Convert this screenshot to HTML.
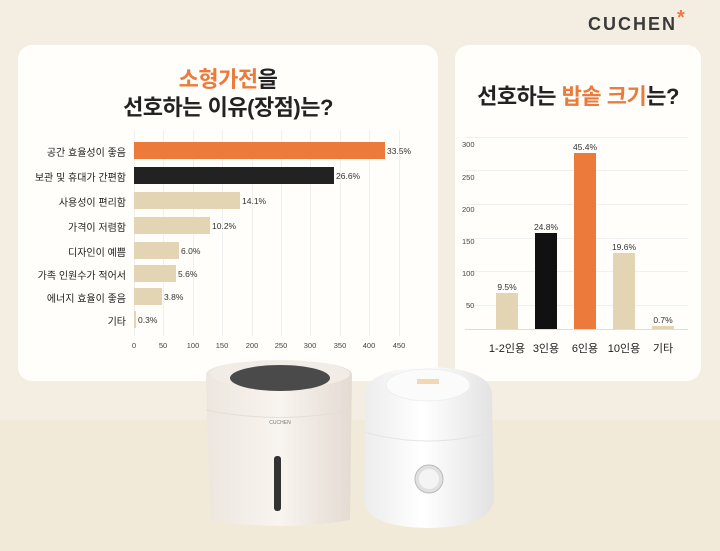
<!DOCTYPE html>
<html><head><meta charset="utf-8"><style>
*{margin:0;padding:0;box-sizing:border-box}
body{width:720px;height:551px;background:#f4eee2;position:relative;overflow:hidden;font-family:"Liberation Sans","Noto Sans CJK KR",sans-serif;color:#222}
.a{position:absolute}
.card{position:absolute;background:#fffefb;border-radius:14px}
.t{position:absolute;font-weight:bold;font-size:22px;text-align:center;letter-spacing:-0.5px}
.o{color:#ec7a3b}
.lbl{position:absolute;font-size:10px;text-align:right;width:120px;left:6px}
.bar{position:absolute;height:17px}
.v{position:absolute;font-size:8.5px;color:#333}
.tk{position:absolute;font-size:7.5px;color:#444;width:30px;text-align:center}
.g{position:absolute;background:#efefef}
</style></head><body>
<div class="a" style="left:0;top:420px;width:720px;height:131px;background:#f2ead9"></div>
<div class="a" style="left:588px;top:13px;font-size:18px;font-weight:bold;letter-spacing:2px;color:#3a3a3a">CUCHEN<span style="color:#ec7a3b;font-size:20px;position:relative;top:-6px;letter-spacing:0">*</span></div>

<div class="card" style="left:18px;top:45px;width:420px;height:336px"></div>
<div class="t" style="left:18px;top:62px;width:420px"><span class="o">소형가전</span>을</div>
<div class="t" style="left:18px;top:90px;width:420px">선호하는 이유(장점)는?</div>

<div class="g" style="left:134px;top:130px;width:1px;height:206px"></div>
<div class="g" style="left:163px;top:130px;width:1px;height:206px"></div>
<div class="g" style="left:193px;top:130px;width:1px;height:206px"></div>
<div class="g" style="left:222px;top:130px;width:1px;height:206px"></div>
<div class="g" style="left:252px;top:130px;width:1px;height:206px"></div>
<div class="g" style="left:281px;top:130px;width:1px;height:206px"></div>
<div class="g" style="left:310px;top:130px;width:1px;height:206px"></div>
<div class="g" style="left:340px;top:130px;width:1px;height:206px"></div>
<div class="g" style="left:369px;top:130px;width:1px;height:206px"></div>
<div class="g" style="left:399px;top:130px;width:1px;height:206px"></div>

<div class="lbl" style="top:144px">공간 효율성이 좋음</div>
<div class="lbl" style="top:169px">보관 및 휴대가 간편함</div>
<div class="lbl" style="top:194px">사용성이 편리함</div>
<div class="lbl" style="top:219px">가격이 저렴함</div>
<div class="lbl" style="top:244px">디자인이 예쁨</div>
<div class="lbl" style="top:267px">가족 인원수가 적어서</div>
<div class="lbl" style="top:290px">에너지 효율이 좋음</div>
<div class="lbl" style="top:313px">기타</div>

<div class="bar" style="left:134px;top:142px;width:251px;background:#ec7a3b"></div>
<div class="bar" style="left:134px;top:167px;width:200px;background:#222"></div>
<div class="bar" style="left:134px;top:192px;width:106px;background:#e3d5b4"></div>
<div class="bar" style="left:134px;top:217px;width:76px;background:#e3d5b4"></div>
<div class="bar" style="left:134px;top:242px;width:45px;background:#e3d5b4"></div>
<div class="bar" style="left:134px;top:265px;width:42px;background:#e3d5b4"></div>
<div class="bar" style="left:134px;top:288px;width:28px;background:#e3d5b4"></div>
<div class="bar" style="left:134px;top:311px;width:2px;background:#e3d5b4"></div>

<div class="v" style="left:387px;top:146px">33.5%</div>
<div class="v" style="left:336px;top:171px">26.6%</div>
<div class="v" style="left:242px;top:196px">14.1%</div>
<div class="v" style="left:212px;top:221px">10.2%</div>
<div class="v" style="left:181px;top:246px">6.0%</div>
<div class="v" style="left:178px;top:269px">5.6%</div>
<div class="v" style="left:164px;top:292px">3.8%</div>
<div class="v" style="left:138px;top:315px">0.3%</div>

<div class="tk" style="left:119px;top:341px">0</div>
<div class="tk" style="left:148px;top:341px">50</div>
<div class="tk" style="left:178px;top:341px">100</div>
<div class="tk" style="left:207px;top:341px">150</div>
<div class="tk" style="left:237px;top:341px">200</div>
<div class="tk" style="left:266px;top:341px">250</div>
<div class="tk" style="left:295px;top:341px">300</div>
<div class="tk" style="left:325px;top:341px">350</div>
<div class="tk" style="left:354px;top:341px">400</div>
<div class="tk" style="left:384px;top:341px">450</div>

<div class="card" style="left:455px;top:45px;width:246px;height:336px"></div>
<div class="t" style="left:455px;top:79px;width:246px">선호하는 <span class="o">밥솥 크기</span>는?</div>

<div class="g" style="left:465px;top:137px;width:223px;height:1px"></div>
<div class="g" style="left:465px;top:170px;width:223px;height:1px"></div>
<div class="g" style="left:465px;top:204px;width:223px;height:1px"></div>
<div class="g" style="left:465px;top:238px;width:223px;height:1px"></div>
<div class="g" style="left:465px;top:271px;width:223px;height:1px"></div>
<div class="g" style="left:465px;top:305px;width:223px;height:1px"></div>
<div class="g" style="left:465px;top:329px;width:223px;height:1px;background:#ddd"></div>

<div class="tk" style="left:462px;top:140px;text-align:left">300</div>
<div class="tk" style="left:462px;top:173px;text-align:left">250</div>
<div class="tk" style="left:462px;top:205px;text-align:left">200</div>
<div class="tk" style="left:462px;top:237px;text-align:left">150</div>
<div class="tk" style="left:462px;top:269px;text-align:left">100</div>
<div class="tk" style="left:466px;top:301px;text-align:left">50</div>

<div class="a" style="left:496px;top:293px;width:22px;height:36px;background:#e3d5b4"></div>
<div class="a" style="left:535px;top:233px;width:22px;height:96px;background:#111"></div>
<div class="a" style="left:574px;top:153px;width:22px;height:176px;background:#ec7a3b"></div>
<div class="a" style="left:613px;top:253px;width:22px;height:76px;background:#e3d5b4"></div>
<div class="a" style="left:652px;top:326px;width:22px;height:3px;background:#e3d5b4"></div>

<div class="v" style="left:491px;top:282px;width:32px;text-align:center">9.5%</div>
<div class="v" style="left:530px;top:222px;width:32px;text-align:center">24.8%</div>
<div class="v" style="left:569px;top:142px;width:32px;text-align:center">45.4%</div>
<div class="v" style="left:608px;top:242px;width:32px;text-align:center">19.6%</div>
<div class="v" style="left:647px;top:315px;width:32px;text-align:center">0.7%</div>

<div class="a" style="left:482px;top:340px;width:50px;text-align:center;font-size:11px">1-2인용</div>
<div class="a" style="left:526px;top:340px;width:40px;text-align:center;font-size:11px">3인용</div>
<div class="a" style="left:565px;top:340px;width:40px;text-align:center;font-size:11px">6인용</div>
<div class="a" style="left:601px;top:340px;width:46px;text-align:center;font-size:11px">10인용</div>
<div class="a" style="left:643px;top:340px;width:40px;text-align:center;font-size:11px">기타</div>

<svg class="a" style="left:0;top:0" width="720" height="551">
<defs>
<linearGradient id="g1" x1="0" x2="1"><stop offset="0" stop-color="#ede6df"/><stop offset="0.5" stop-color="#f8f4ef"/><stop offset="1" stop-color="#e4dbd2"/></linearGradient>
<linearGradient id="g2" x1="0" x2="1"><stop offset="0" stop-color="#ececec"/><stop offset="0.45" stop-color="#ffffff"/><stop offset="1" stop-color="#e2e2e2"/></linearGradient>
</defs>
<path d="M206 375 Q206 362 280 360 Q352 362 352 375 L350 520 Q280 532 210 520 Z" fill="url(#g1)"/>
<path d="M206 410 Q280 425 352 410" fill="none" stroke="#e6ddd4"/>
<ellipse cx="280" cy="374" rx="70" ry="14" fill="#f2ece6"/>
<ellipse cx="280" cy="378" rx="50" ry="13" fill="#4a4a4a"/>
<text x="280" y="424" font-size="5" fill="#777" text-anchor="middle" font-family="Liberation Sans">CUCHEN</text>
<rect x="274" y="456" width="7" height="55" rx="3" fill="#333"/>
<path d="M365 400 Q362 368 428 367 Q496 368 492 400 L494 500 Q490 527 428 528 Q366 527 364 500 Z" fill="url(#g2)"/>
<path d="M364 432 Q428 450 493 432" fill="none" stroke="#e4e4e4"/>
<ellipse cx="428" cy="385" rx="42" ry="16" fill="#fbfbfb" stroke="#eee"/>
<rect x="417" y="379" width="22" height="5" fill="#f1d8b3"/>
<circle cx="429" cy="479" r="14" fill="#e0e0e0" stroke="#bbb"/>
<circle cx="429" cy="479" r="10" fill="#f4f4f4"/>
</svg>
</body></html>
